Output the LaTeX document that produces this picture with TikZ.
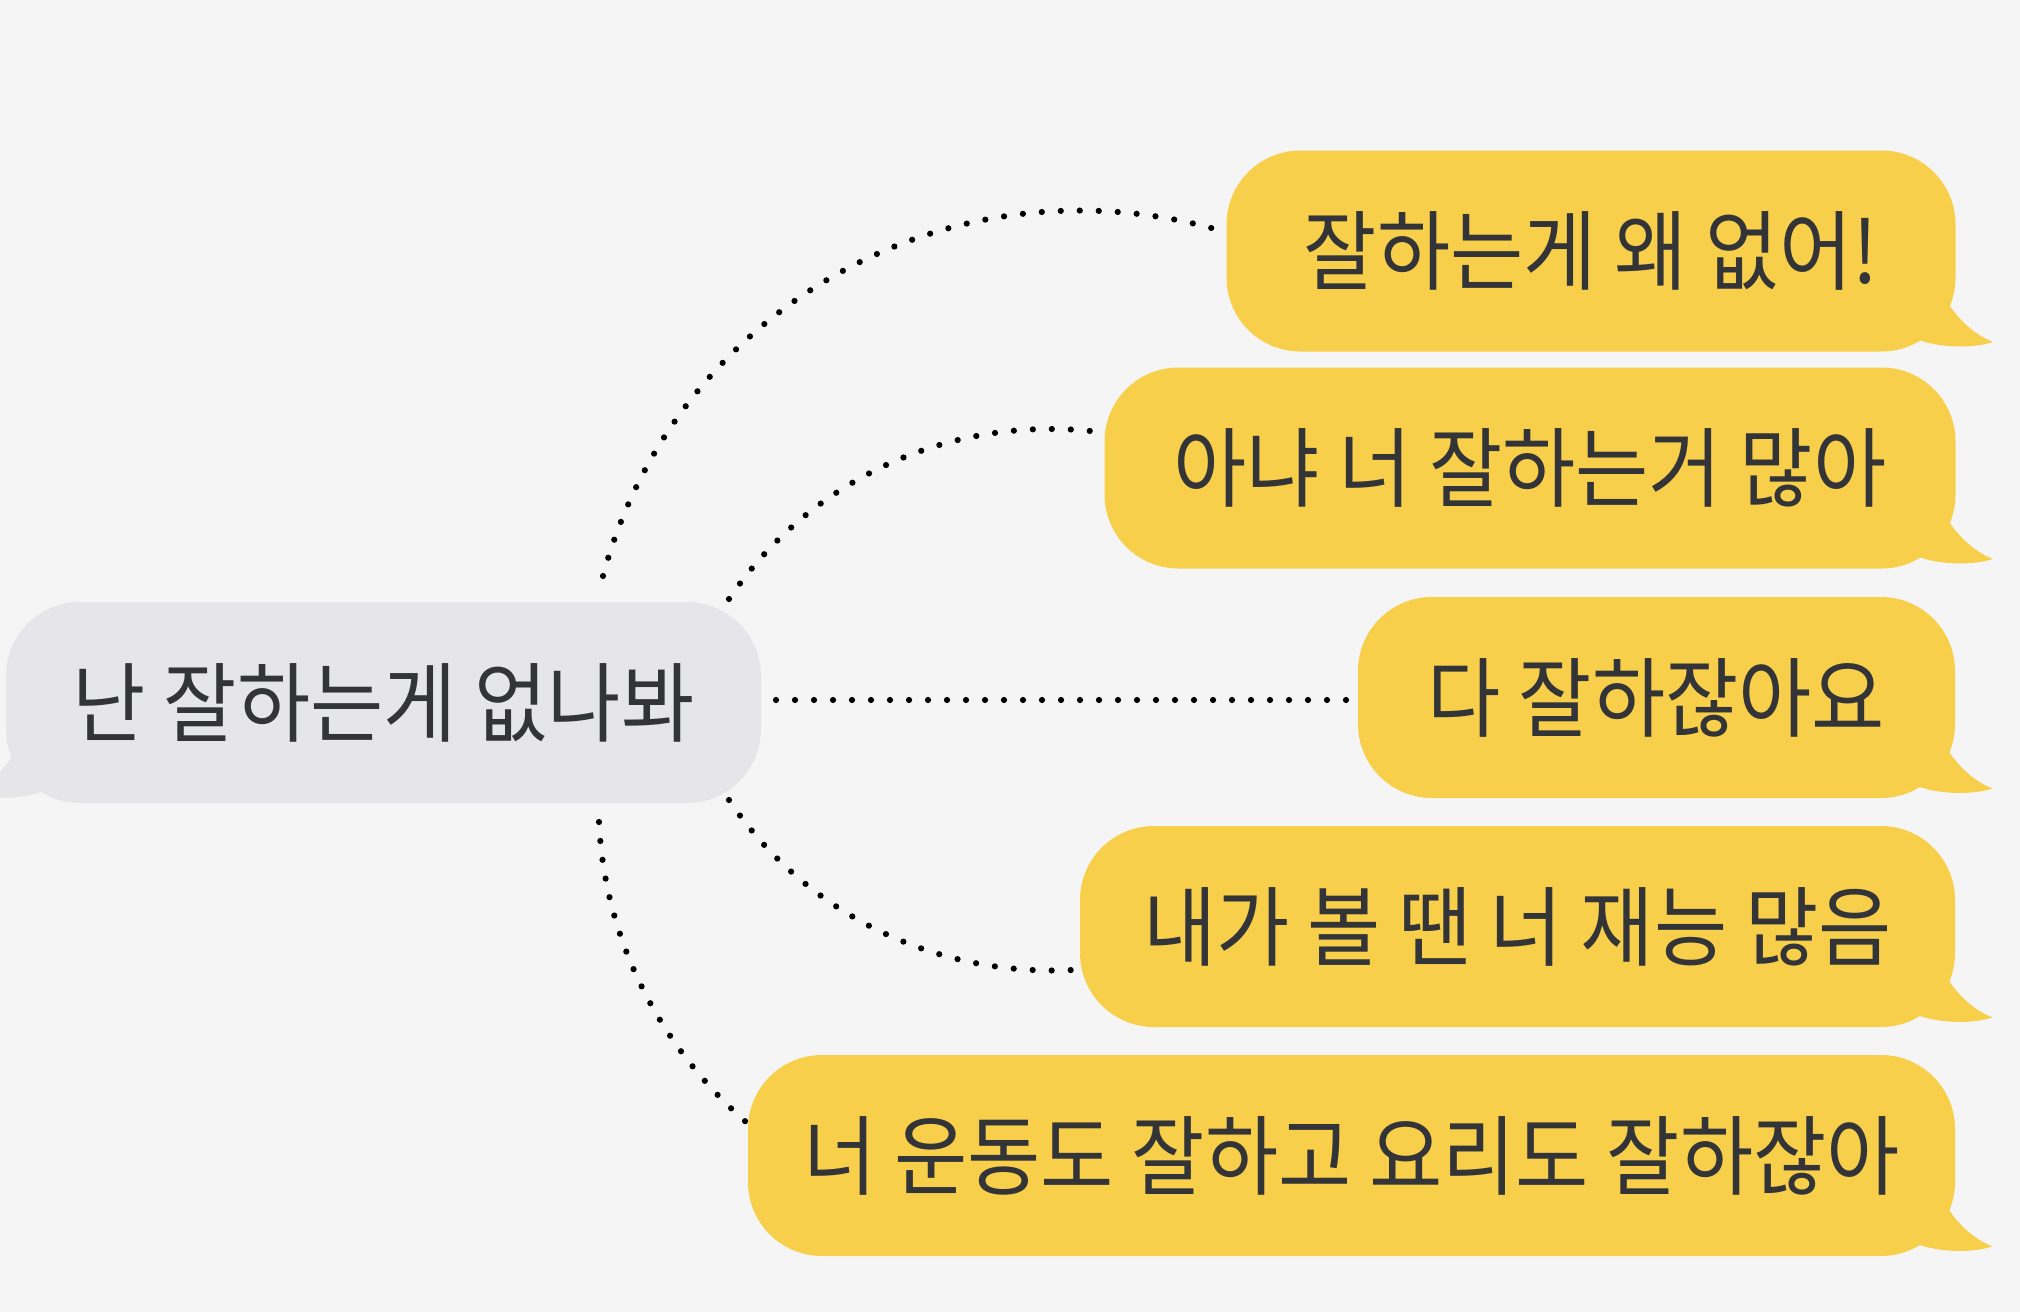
\documentclass[tikz,border=0pt]{standalone}
\usepackage{fontspec}
\setmainfont[FakeStretch=0.915]{Noto Sans CJK KR}
\usetikzlibrary{calc}
\definecolor{bgc}{HTML}{F5F5F5}
\definecolor{yel}{HTML}{F8CF4A}
\definecolor{gry}{HTML}{E6E6EA}
\definecolor{txt}{HTML}{333438}
\pgfdeclarelayer{canvas}
\pgfdeclarelayer{background}
\pgfsetlayers{canvas,background,main}
\begin{document}
\begin{tikzpicture}[x=0.5pt,y=-0.5pt,
  bubble/.style={rounded corners=37pt, minimum height=100.5pt, inner sep=0pt,
    text=txt, font=\fontsize{43.5}{46}\selectfont},
  ybub/.style={bubble, fill=yel},
  gbub/.style={bubble, fill=gry},
  dotline/.style={draw=black, line width=3.1pt, line cap=round,
    dash pattern=on 0pt off 9.5pt}]
\useasboundingbox (0,0) rectangle (2020,1312);
\clip (0,0) rectangle (2020,1312);
\begin{pgfonlayer}{canvas}
  \fill[bgc] (0,0) rectangle (2020,1312);
\end{pgfonlayer}

% bubbles
\node[gbub, minimum width=377.5pt] (b0) at (383.5,702.5) {난 잘하는게 없나봐};
\node[ybub, minimum width=364.5pt] (b1) at (1591,251) {잘하는게 왜 없어!};
\node[ybub, minimum width=425.5pt] (b2) at (1530,468) {아냐 너 잘하는거 많아};
\node[ybub, minimum width=298.5pt] (b3) at (1656.5,697.5) {다 잘하잖아요};
\node[ybub, minimum width=437.5pt] (b4) at (1517.5,926.5) {내가 볼 땐 너 재능 많음};
\node[ybub, minimum width=603.5pt] (b5) at (1351.5,1155.5) {너 운동도 잘하고 요리도 잘하잖아};

% tails
\foreach \b in {b1,b2,b3,b4,b5}{
  \fill[yel, shift={(\b.south east)}] (-8,-49) .. controls (0,-36) and (16,-18) .. (37,-10)
     .. controls (20,-4) and (-15,-3) .. (-40,-13) -- (-40,-60) -- cycle;
}
\fill[gry, shift={(b0.south west)}, xscale=-1] (-8,-49) .. controls (0,-36) and (16,-18) .. (37,-10)
     .. controls (20,-4) and (-15,-3) .. (-40,-13) -- (-40,-60) -- cycle;

% connector ends
\coordinate (s1) at (603,576);
\coordinate (e1) at (1215,229);
\coordinate (s2) at (729,599);
\coordinate (e2) at (1107,433);
\coordinate (s3) at (776,700);
\coordinate (e3) at (1350,700);
\coordinate (s4) at (729,800);
\coordinate (e4) at (1072,970);
\coordinate (s5) at (599,822);
\coordinate (e5) at (746,1122);

\begin{pgfonlayer}{background}
  \draw[dotline] (s1) .. controls (674.6,309.9) and (947.4,155.0) .. (e1);
  \draw[dotline] (s2) .. controls (812.0,475.7) and (957.9,411.8) .. (e2);
  \draw[dotline] (s3) -- (e3);
  \draw[dotline] (s4) .. controls (804.4,912.6) and (933.7,976.7) .. (e4);
  \draw[dotline] (s5) .. controls (604.4,936.8) and (657.5,1044.4) .. (e5);
\end{pgfonlayer}
\end{tikzpicture}
\end{document}
